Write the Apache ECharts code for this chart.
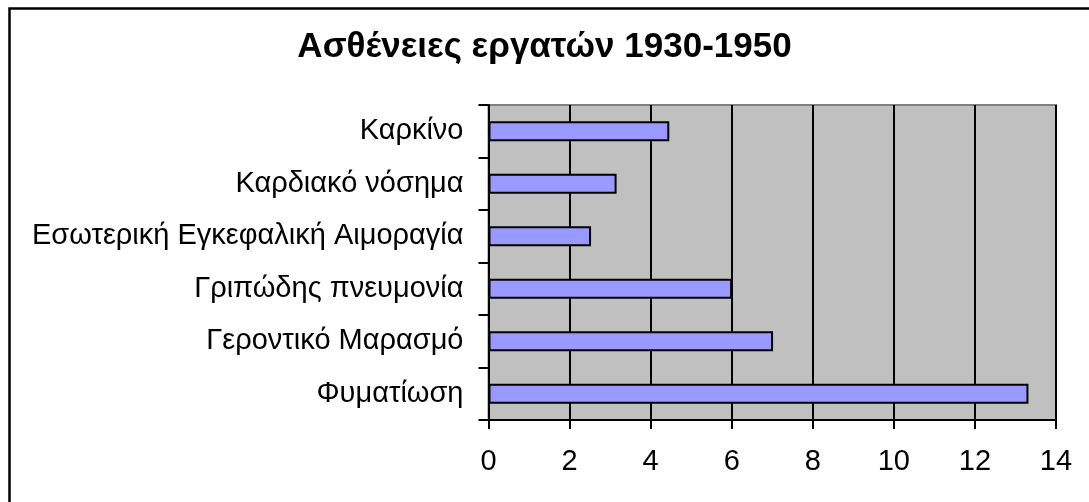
<!DOCTYPE html>
<html>
<head>
<meta charset="utf-8">
<script src="https://cdn.jsdelivr.net/npm/echarts@6/dist/echarts.min.js"></script>
<style>
  html, body { margin: 0; padding: 0; background: #fff; }
  #chart { width: 1089px; height: 502px; }
</style>
</head>
<body>
<div id="chart"></div>
<script>
// categories top to bottom, as in the picture
var diseases = [
  "Καρκίνο",
  "Καρδιακό νόσημα",
  "Εσωτερική Εγκεφαλική Αιμοραγία",
  "Γριπώδης πνευμονία",
  "Γεροντικό Μαρασμό",
  "Φυματίωση"
];
var cases = [4.46, 3.16, 2.53, 6.01, 7.02, 13.32];
var xTicks = [0, 2, 4, 6, 8, 10, 12, 14];

var font = '"Liberation Sans", Arial, sans-serif';
var myChart = echarts.init(document.getElementById("chart"));

var option = {
  backgroundColor: "#fff",
  animation: false,
  title: {
    text: "Ασθένειες εργατών 1930-1950",
    left: "center",
    top: 25,
    textStyle: {
      fontFamily: font,
      fontWeight: "bold",
      fontSize: 35,
      color: "#000"
    }
  },
  graphic: {
    elements: [
      {
        // outer frame, only top and left edges visible
        type: "rect",
        left: 7,
        top: 6,
        shape: { width: 1200, height: 600 },
        style: { fill: "none", stroke: "#000", lineWidth: 2.5 },
        silent: true
      }
    ]
  },
  grid: {
    left: 488.5,
    right: 33,
    top: 105,
    bottom: 82,
    show: true,
    backgroundColor: "#c0c0c0",
    borderColor: "#808080",
    borderWidth: 2
  },
  xAxis: {
    type: "value",
    min: xTicks[0],
    max: xTicks[xTicks.length - 1],
    interval: 2,
    axisLine: { show: true, lineStyle: { color: "#000", width: 2 } },
    axisTick: { show: true, length: 9, lineStyle: { color: "#000", width: 2 } },
    axisLabel: {
      margin: 27,
      fontFamily: font,
      fontSize: 29,
      color: "#000"
    },
    splitLine: { show: true, lineStyle: { color: "#000", width: 2 } }
  },
  yAxis: {
    type: "category",
    inverse: true,
    data: diseases,
    axisLine: { show: true, lineStyle: { color: "#000", width: 2 } },
    axisTick: { show: true, length: 10, lineStyle: { color: "#000", width: 2 } },
    axisLabel: {
      margin: 25,
      fontFamily: font,
      fontSize: 29,
      color: "#000"
    },
    splitLine: { show: false }
  },
  tooltip: { show: false },
  series: [
    {
      type: "bar",
      data: cases,
      barWidth: 20,
      itemStyle: {
        color: "#9999ff",
        borderColor: "#000",
        borderWidth: 2
      }
    }
  ]
};
myChart.setOption(option);
</script>
</body>
</html>
